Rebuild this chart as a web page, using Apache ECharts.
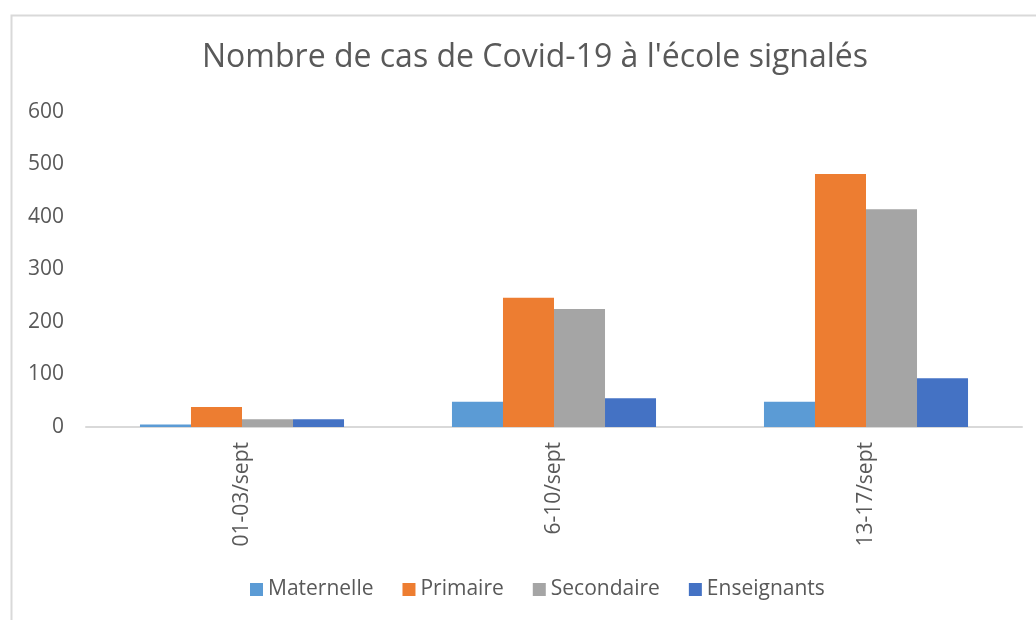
<!DOCTYPE html>
<html>
<head>
<meta charset="utf-8">
<script src="https://cdn.jsdelivr.net/npm/echarts@6/dist/echarts.min.js"></script>
<style>
html,body{margin:0;padding:0;background:#fff;}
#chart{width:1036px;height:620px;}
</style>
</head>
<body>
<div id="chart"></div>
<script>
const categories = ['01-03/sept', '6-10/sept', '13-17/sept'];
const maternelle = [5, 48, 48];
const primaire = [38, 246, 482];
const secondaire = [15, 225, 415];
const enseignants = [15, 55, 93];
const yTicks = [0, 100, 200, 300, 400, 500, 600];
const titleText = "Nombre de cas de Covid-19 à l'école signalés";

const FONT = '"Open Sans", sans-serif';
const chart = echarts.init(document.getElementById('chart'), null, {renderer: 'canvas'});

function bar(name, data, color) {
  return {name: name, type: 'bar', data: data, itemStyle: {color: color}, barGap: '0%', barCategoryGap: '34.6%'};
}

chart.setOption({
  animation: false,
  backgroundColor: '#ffffff',
  color: ['#5B9BD5', '#ED7D31', '#A5A5A5', '#4472C4'],
  graphic: [{
    type: 'rect', left: 9, top: 13, z: -1,
    shape: {width: 1100, height: 700},
    style: {fill: 'none', stroke: '#d9d9d9', lineWidth: 2}
  }],
  title: {
    text: titleText, left: 197, top: 37,
    textStyle: {fontFamily: FONT, fontSize: 32, fontWeight: 'normal', color: '#595959'}
  },
  legend: {
    bottom: 15, left: 245, itemWidth: 13, itemHeight: 13, itemGap: 29, icon: 'rect',
    textStyle: {fontFamily: FONT, fontSize: 21, color: '#595959'},
    data: ['Maternelle', 'Primaire', 'Secondaire', 'Enseignants']
  },
  grid: {left: 86, right: 14, top: 112, bottom: 193, containLabel: false},
  xAxis: {
    type: 'category', data: categories,
    axisLine: {lineStyle: {color: '#d9d9d9', width: 2}},
    axisTick: {show: false},
    axisLabel: {rotate: 90, margin: 15, fontFamily: FONT, fontSize: 21, color: '#595959'}
  },
  yAxis: {
    type: 'value', min: yTicks[0], max: yTicks[yTicks.length - 1], interval: 100,
    axisLine: {show: false}, axisTick: {show: false}, splitLine: {show: false},
    axisLabel: {margin: 22, fontFamily: FONT, fontSize: 21, color: '#595959'}
  },
  series: [
    bar('Maternelle', maternelle, '#5B9BD5'),
    bar('Primaire', primaire, '#ED7D31'),
    bar('Secondaire', secondaire, '#A5A5A5'),
    bar('Enseignants', enseignants, '#4472C4')
  ]
});
</script>
</body>
</html>
